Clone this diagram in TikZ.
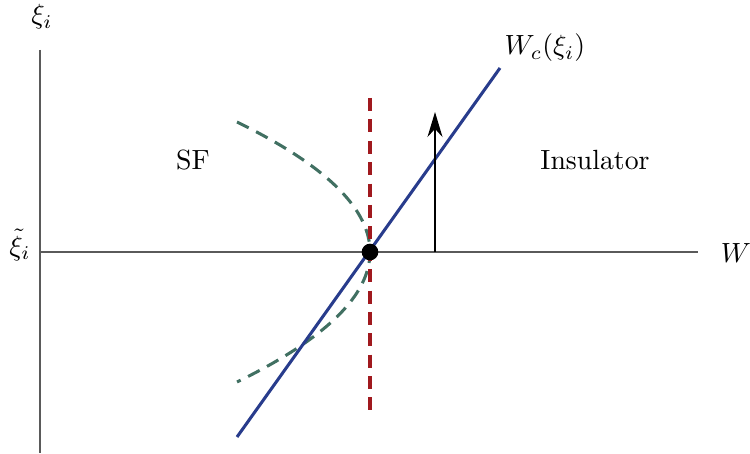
\documentclass[tikz,border=0pt]{standalone}
\usetikzlibrary{arrows.meta}
\definecolor{lineblue}{RGB}{40,60,140}
\definecolor{linered}{RGB}{160,25,30}
\definecolor{linegreen}{RGB}{65,112,98}
\definecolor{axisgray}{RGB}{90,90,90}
\tikzset{
  axisline/.style={axisgray, line width=0.45pt},
  critline/.style={lineblue, line width=1.1pt},
  reddash/.style={linered, line width=1.1pt, dash pattern=on 4.7pt off 3pt},
  greendash/.style={linegreen, line width=1.1pt, dash pattern=on 4.7pt off 3pt},
  lbl/.style={inner sep=0pt}
}
\begin{document}
\begin{tikzpicture}[x=0.36pt,y=-0.36pt]
\useasboundingbox (0,0) rectangle (750,453);
% axes
\coordinate (ytop) at (40,50);
\coordinate (ybot) at (40,453);
\coordinate (xleft) at (40,252);
\coordinate (xright) at (698,252);
\draw[axisline] (ytop) -- (ybot);
\draw[axisline] (xleft) -- (xright);
% labels
\node[lbl] (xi) at (42,17) {$\xi_i$};
\node[lbl] (xit) at (20,245) {$\tilde{\xi}_i$};
\node[lbl] (W) at (736,253) {$W$};
\node[lbl] (Wc) at (545,48) {$W_c(\xi_i)$};
\node[lbl] (SF) at (193,160) {SF};
\node[lbl] (ins) at (595,160) {Insulator};
% green dashed parabola
\draw[greendash, domain=-13:13, samples=80, variable=\t]
  plot ({370-0.787*\t*\t},{252+10*\t});
% red dashed vertical
\coordinate (rtop) at (370,98);
\coordinate (rbot) at (370,410);
\draw[reddash] (rtop) -- (rbot);
% blue line
\coordinate (bstart) at (237,437);
\coordinate (bend) at (500,68);
\draw[critline] (bstart) -- (bend);
% arrow
\coordinate (abase) at (435,252);
\coordinate (atip) at (435,112);
\draw[black, line width=0.45pt, -{Stealth[length=9pt,width=5.4pt]}] (abase) -- (atip);
% dot
\node[circle, fill=black, inner sep=0pt, minimum size=6pt] (dot) at (370,252) {};
\end{tikzpicture}
\end{document}
